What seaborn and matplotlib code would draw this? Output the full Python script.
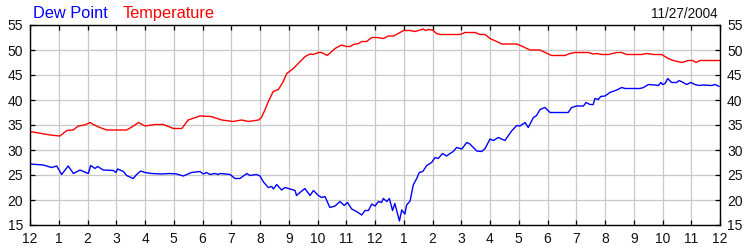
import matplotlib
matplotlib.use("Agg")
import matplotlib.pyplot as plt
import seaborn as sns
import pandas as pd

# ---- data ----
temp_hours = [0.0, 0.7, 1.04, 1.28, 1.5, 1.68, 1.9, 2.09, 2.2, 2.43, 2.67, 3.36, 3.6, 3.77, 4.0,
              4.35, 4.64, 4.99, 5.28, 5.5, 5.91, 6.3, 6.67, 7.07, 7.36, 7.6, 7.95, 8.05, 8.17,
              8.29, 8.46, 8.64, 8.81, 8.93, 9.16, 9.33, 9.57, 9.74, 9.85, 10.03, 10.14, 10.34,
              10.61, 10.84, 10.99, 11.13, 11.25, 11.42, 11.54, 11.71, 11.88, 12.06, 12.29, 12.46,
              12.64, 12.81, 12.99, 13.22, 13.39, 13.57, 13.68, 13.76, 13.85, 14.0, 14.14, 14.26,
              14.96, 15.13, 15.48, 15.65, 15.83, 16.0, 16.23, 16.41, 16.93, 17.1, 17.39, 17.74,
              18.14, 18.61, 18.78, 18.96, 19.42, 19.59, 19.71, 19.88, 20.12, 20.41, 20.58, 20.75,
              21.28, 21.45, 21.68, 21.97, 22.2, 22.37, 22.67, 22.9, 23.05, 23.17, 23.3, 24.0]
temp_values = [33.7, 33.0, 32.8, 33.9, 34.0, 34.8, 35.0, 35.5, 35.1, 34.5, 34.0, 34.0, 34.8, 35.5, 34.8,
               35.1, 35.1, 34.3, 34.3, 36.0, 36.8, 36.7, 36.0, 35.7, 36.0, 35.7, 36.0, 36.5, 38.0,
               39.7, 41.7, 42.1, 43.7, 45.3, 46.3, 47.3, 48.7, 49.2, 49.1, 49.5, 49.5, 48.9,
               50.3, 51.0, 50.7, 50.7, 51.1, 51.3, 51.7, 51.7, 52.5, 52.5, 52.3, 52.8,
               52.8, 53.3, 53.9, 53.9, 53.7, 54.0, 54.2, 53.9, 54.1, 54.0, 53.3, 53.1,
               53.1, 53.5, 53.5, 53.1, 53.1, 52.3, 51.7, 51.2, 51.2, 50.8, 50.0, 50.0,
               48.9, 48.9, 49.3, 49.5, 49.5, 49.2, 49.3, 49.1, 49.1, 49.5, 49.5, 49.1,
               49.1, 49.3, 49.1, 49.1, 48.3, 47.9, 47.5, 47.9, 47.9, 47.5, 47.9, 47.9]

dew_hours = [0.0, 0.46, 0.75, 0.93, 1.1, 1.33, 1.51, 1.74, 1.86, 2.03, 2.11, 2.26, 2.35, 2.55, 2.9,
             2.99, 3.05, 3.25, 3.36, 3.59, 3.71, 3.85, 4.0, 4.23, 4.58, 4.87, 5.1, 5.33, 5.62,
             5.91, 6.03, 6.14, 6.26, 6.43, 6.55, 6.61, 6.96, 7.13, 7.3, 7.54, 7.65, 7.88, 8.0,
             8.12, 8.29, 8.41, 8.47, 8.58, 8.75, 8.87, 9.04, 9.22, 9.27, 9.39, 9.56, 9.74, 9.86,
             10.03, 10.14, 10.26, 10.43, 10.61, 10.78, 10.93, 11.04, 11.19, 11.36, 11.54, 11.65,
             11.77, 11.89, 12.0, 12.12, 12.23, 12.29, 12.41, 12.5, 12.61, 12.69, 12.85, 12.93,
             13.04, 13.1, 13.22, 13.33, 13.45, 13.54, 13.66, 13.8, 13.97, 14.09, 14.2, 14.35,
             14.49, 14.61, 14.72, 14.84, 15.02, 15.19, 15.3, 15.54, 15.71, 15.83, 16.0, 16.12,
             16.29, 16.52, 16.75, 16.93, 17.04, 17.22, 17.33, 17.51, 17.62, 17.74, 17.91, 18.09,
             18.72, 18.84, 19.01, 19.25, 19.34, 19.48, 19.59, 19.65, 19.77, 19.85, 20.0, 20.17,
             20.41, 20.58, 20.7, 21.22, 21.34, 21.51, 21.74, 21.86, 21.94, 22.01, 22.09, 22.18,
             22.32, 22.49, 22.58, 22.72, 22.84, 22.98, 23.13, 23.28, 23.41, 23.71, 23.83, 23.97]
dew_values = [27.2, 27.0, 26.5, 26.8, 25.1, 26.8, 25.3, 26.0, 25.7, 25.3, 26.9, 26.3, 26.7, 26.0, 25.9,
              25.5, 26.2, 25.7, 24.9, 24.3, 25.1, 25.8, 25.5, 25.3, 25.2, 25.3, 25.2, 24.8, 25.5,
              25.7, 25.2, 25.5, 25.1, 25.3, 25.1, 25.3, 25.1, 24.3, 24.3, 25.3, 24.9, 25.1, 24.8,
              23.6, 22.5, 22.7, 22.2, 23.1, 22.0, 22.5, 22.2, 21.9, 20.9, 21.5, 22.3, 20.9, 21.9,
              20.9, 20.5, 20.7, 18.5, 18.8, 19.7, 18.9, 19.5, 18.2, 17.7, 17.0, 17.9,
              17.9, 19.2, 18.8, 19.7, 19.5, 20.3, 19.7, 20.3, 17.9, 19.3, 15.8, 18.0,
              17.2, 19.0, 19.8, 23.0, 24.3, 25.5, 25.7, 26.9, 27.5, 28.5, 28.3, 29.3,
              28.8, 29.3, 29.7, 30.5, 30.2, 31.5, 31.2, 29.8, 29.7, 30.3, 32.2, 31.9,
              32.5, 31.9, 33.8, 34.9, 34.8, 35.5, 34.5, 36.5, 36.9, 38.1, 38.5, 37.5,
              37.5, 38.5, 38.8, 38.8, 39.5, 39.1, 39.1, 40.3, 40.1, 40.7, 40.8, 41.5,
              42.0, 42.5, 42.3, 42.3, 42.5, 43.1, 43.0, 42.9, 43.5, 43.1, 43.3, 44.3,
              43.5, 43.5, 43.9, 43.5, 43.1, 43.5, 43.1, 42.9, 43.0, 42.9, 43.1, 42.7]

x_tick_labels = ["12", "1", "2", "3", "4", "5", "6", "7", "8", "9", "10", "11",
                 "12", "1", "2", "3", "4", "5", "6", "7", "8", "9", "10", "11", "12"]
y_ticks = [15, 20, 25, 30, 35, 40, 45, 50, 55]
series_names = ["Dew Point", "Temperature"]
date_label = "11/27/2004"

# ---- style ----
sns.set_style("white")
plt.rcParams["font.family"] = ["Liberation Sans", "DejaVu Sans"]

BLUE = "#0000ff"
RED = "#ff0000"

temp_df = pd.DataFrame({"hour": temp_hours, "value": temp_values})
dew_df = pd.DataFrame({"hour": dew_hours, "value": dew_values})

fig = plt.figure(figsize=(7.5, 2.5), dpi=100)
ax = fig.add_axes([30 / 750, 25 / 250, 690 / 750, 200 / 250])

sns.lineplot(data=temp_df, x="hour", y="value", ax=ax, color=RED, linewidth=1.0,
             estimator=None, sort=True)
sns.lineplot(data=dew_df, x="hour", y="value", ax=ax, color=BLUE, linewidth=1.0,
             estimator=None, sort=True)

ax.set_xlim(0, 24)
ax.set_ylim(15, 55)
ax.set_xticks(range(25))
ax.set_xticklabels(x_tick_labels)
ax.set_yticks(y_ticks)
ax.set_xlabel("")
ax.set_ylabel("")
ax.grid(True, color="#c8c8c8", linewidth=0.9)
ax.set_axisbelow(True)
for s in ax.spines.values():
    s.set_color("black")
    s.set_linewidth(1.0)
    s.set_visible(True)
ax.tick_params(axis="both", direction="in", length=3.6, width=0.9, color="black",
               labelsize=10, labelcolor="#111111", pad=5,
               top=True, right=True, left=True, bottom=True,
               labelleft=True, labelright=True)

fig.text(33 / 750, 1 - 18 / 250, series_names[0], color=BLUE, fontsize=11.8, va="baseline", ha="left")
fig.text(123 / 750, 1 - 18 / 250, series_names[1], color=RED, fontsize=11.8, va="baseline", ha="left")
fig.text(718 / 750, 1 - 17.5 / 250, date_label, color="#111111", fontsize=9.8, va="baseline", ha="right")

fig.savefig("out.png", dpi=100)
